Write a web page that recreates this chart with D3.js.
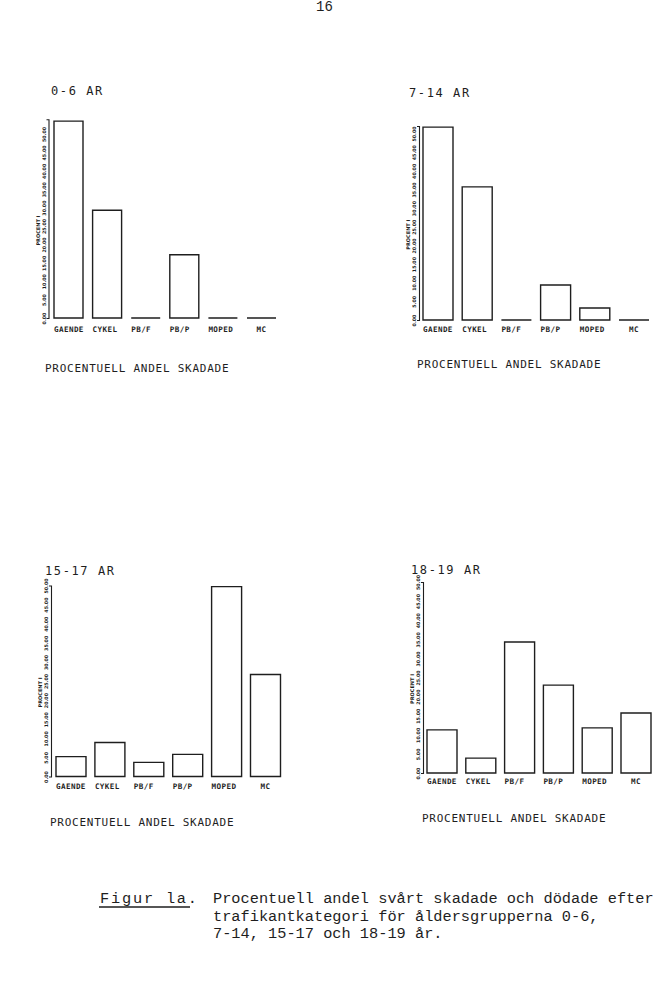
<!DOCTYPE html>
<html>
<head>
<meta charset="utf-8">
<script src="https://cdn.jsdelivr.net/npm/d3@7"></script>
<style>
  html, body { margin: 0; padding: 0; background: #fff; }
  svg { display: block; }
</style>
</head>
<body>
<svg id="chart" width="657" height="989"></svg>
<script>
// ---------------- data ----------------
const categories = ["GAENDE", "CYKEL", "PB/F", "PB/P", "MOPED", "MC"];
const panelTitles = ["0-6 AR", "7-14 AR", "15-17 AR", "18-19 AR"];
const values_0_6   = [53.5, 29.3, 0, 17.2, 0, 0];
const values_7_14  = [51.7, 35.7, 0, 9.4, 3.2, 0];
const values_15_17 = [5.2, 8.9, 3.7, 5.8, 49.7, 26.7];
const values_18_19 = [11.3, 3.9, 34.3, 23.0, 11.8, 15.7];
const yMaxes = [54, 52, 50, 50];
const tickValues = [0, 5, 10, 15, 20, 25, 30, 35, 40, 45, 50];
const axisTitle = "PROCENT I";
const footerText = "PROCENTUELL ANDEL SKADADE";
const pageNumber = "16";
const captionLabel = "Figur la.";
const captionLines = [
  "Procentuell andel svårt skadade och dödade efter",
  "trafikantkategori för åldersgrupperna 0-6,",
  "7-14, 15-17 och 18-19 år."
];
const seriesList = [values_0_6, values_7_14, values_15_17, values_18_19];

// ---------------- layout ----------------
const layout = [
  {x0: 54,  step: 38.6, bw: 29, base: 318,   pxPer: 3.68, axisX: 48.5, tx: 51,  ty: 95,  fx: 45,  fy: 372, ly: 332},
  {x0: 423, step: 39.2, bw: 30, base: 320,   pxPer: 3.73, axisX: 419,  tx: 409, ty: 97,  fx: 417, fy: 368, ly: 332},
  {x0: 56,  step: 38.9, bw: 30, base: 776.5, pxPer: 3.82, axisX: 51,   tx: 45,  ty: 575, fx: 50,  fy: 826, ly: 789},
  {x0: 427, step: 38.8, bw: 30, base: 773,   pxPer: 3.82, axisX: 423,  tx: 411, ty: 574, fx: 422, fy: 822, ly: 784}
];

const ink = "#1e1e1e";
const plotFont = "'DejaVu Sans Mono', 'Liberation Mono', monospace";
const typeFont = "'Liberation Mono', 'Courier New', monospace";

const svg = d3.select("#chart");
svg.append("rect").attr("width", 657).attr("height", 989).attr("fill", "#fff");

// page number
svg.append("text").attr("x", 316).attr("y", 11)
  .attr("font-family", typeFont).attr("font-size", 14).attr("fill", ink)
  .text(pageNumber);

layout.forEach((L, i) => {
  const vals = seriesList[i];
  const g = svg.append("g");
  const n = categories.length;
  const y = d3.scaleLinear().domain([0, yMaxes[i]]).range([L.base, L.base - yMaxes[i] * L.pxPer]);
  const x = d3.scaleBand().domain(categories)
    .range([L.x0, L.x0 + L.step * (n - 1) + L.bw])
    .paddingInner((L.step - L.bw) / L.step).paddingOuter(0).align(0);

  // title
  g.append("text").attr("x", L.tx).attr("y", L.ty)
    .attr("font-family", plotFont).attr("font-size", 12).attr("letter-spacing", 1.6)
    .attr("fill", ink).text(panelTitles[i]);

  // y axis
  const ax = g.append("g").attr("transform", `translate(${L.axisX},0)`)
    .call(d3.axisLeft(y).tickValues(tickValues.filter(t => t <= yMaxes[i]))
      .tickSizeInner(0).tickSizeOuter(2).tickPadding(0)
      .tickFormat(d3.format(".2f")));
  ax.select(".domain").attr("stroke", ink).attr("stroke-width", 1.1);
  ax.selectAll(".tick line").remove();
  ax.selectAll(".tick text")
    .attr("font-family", "'DejaVu Sans', sans-serif").attr("font-weight", "bold")
    .attr("font-size", 4.8).attr("fill", ink)
    .attr("text-anchor", "middle")
    .attr("x", null).attr("dy", null)
    .attr("transform", "translate(-4,0) rotate(-90)")
    .attr("y", 0).attr("dominant-baseline", "middle");

  // axis title
  const tyc = L.base - yMaxes[i] * L.pxPer * 0.44;
  g.append("text")
    .attr("transform", `translate(${L.axisX - 10},${tyc}) rotate(-90)`)
    .attr("text-anchor", "middle").attr("dominant-baseline", "middle")
    .attr("font-family", "'DejaVu Sans', sans-serif").attr("font-weight", "bold")
    .attr("font-size", 5).attr("fill", ink).text(axisTitle);

  // bars (open rectangles; zero values show as baseline segments)
  g.selectAll("path.bar").data(categories).enter().append("path")
    .attr("class", "bar")
    .attr("d", (c, j) => {
      const bx = x(c), bw = x.bandwidth(), top = y(vals[j]), base = y(0);
      return `M${bx},${base}V${top}H${bx + bw}V${base}Z`;
    })
    .attr("fill", "none").attr("stroke", ink).attr("stroke-width", 1.4);

  // category labels
  g.selectAll("text.cat").data(categories).enter().append("text")
    .attr("class", "cat")
    .attr("x", c => x(c) + (c === "MC" ? x.bandwidth() / 2 - 5 : 0))
    .attr("y", L.ly)
    .attr("font-family", plotFont).attr("font-weight", "bold")
    .attr("font-size", 7.6).attr("letter-spacing", 0.4).attr("fill", ink)
    .text(c => c);

  // footer
  g.append("text").attr("x", L.fx).attr("y", L.fy)
    .attr("font-family", plotFont).attr("font-size", 11).attr("letter-spacing", 0.75)
    .attr("fill", ink).text(footerText);
});

// caption
svg.append("text").attr("x", 100).attr("y", 903)
  .attr("font-family", typeFont).attr("font-size", 15.3).attr("letter-spacing", 1.8)
  .attr("fill", ink)
  .text(captionLabel);
svg.append("line").attr("x1", 99).attr("x2", 190).attr("y1", 907).attr("y2", 907)
  .attr("stroke", ink).attr("stroke-width", 1.3);
captionLines.forEach((t, k) => {
  svg.append("text").attr("x", 213).attr("y", 903 + k * 17.5)
    .attr("font-family", typeFont).attr("font-size", 15.3).attr("fill", ink)
    .text(t);
});
</script>
</body>
</html>
